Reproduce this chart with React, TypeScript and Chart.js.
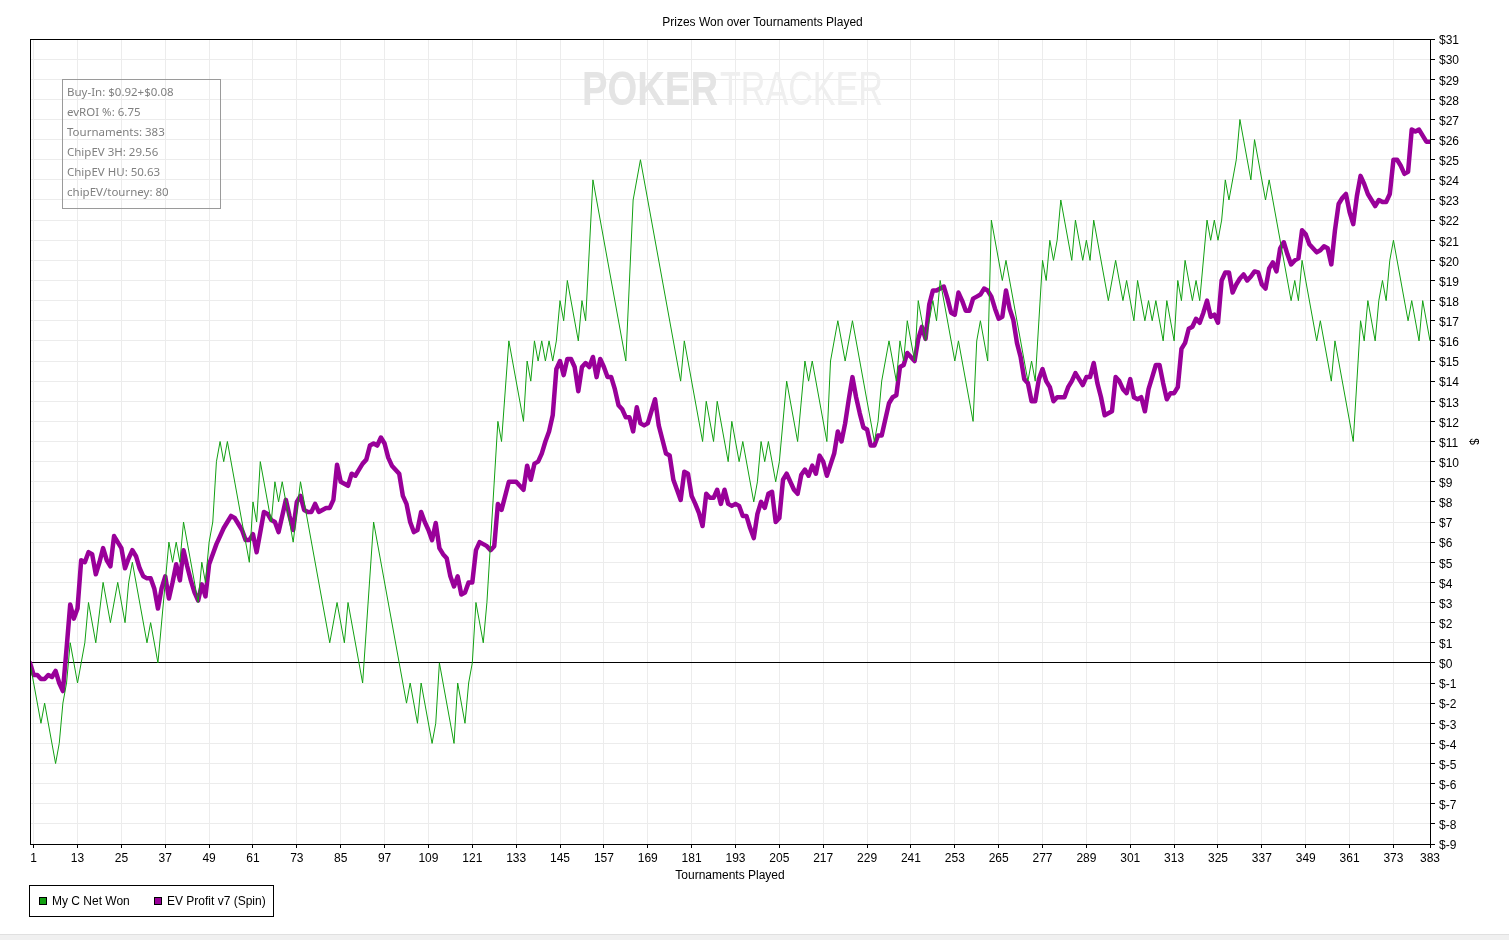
import React, { useEffect, useRef } from "react";
import { Chart, registerables } from "chart.js";

Chart.register(...registerables);

const TITLE = "Prizes Won over Tournaments Played";
const X_TITLE = "Tournaments Played";
const Y_TITLE = "$";
const SERIES_NAMES = ["My C Net Won", "EV Profit v7 (Spin)"];
const INFO_LINES = [
  "Buy-In: $0.92+$0.08",
  "evROI %: 6.75",
  "Tournaments: 383",
  "ChipEV 3H: 29.56",
  "ChipEV HU: 50.63",
  "chipEV/tourney: 80",
];

const X_TICKS = [1, 13, 25, 37, 49, 61, 73, 85, 97, 109, 121, 133, 145, 157, 169, 181, 193, 205, 217, 229, 241, 253, 265, 277, 289, 301, 313, 325, 337, 349, 361, 373, 383];
const X_MIN = 0;
const X_MAX = 383;
const Y_MIN = -9;
const Y_MAX = 31;

// [tournament, net won $] at each turning point of the line
const NET_WON: [number, number][] = [
  [0, 0], [3, -3], [4, -2], [7, -5], [8, -4], [9, -2], [10, -1], [11, 1], [13, -1], [15, 1], [16, 3], [18, 1],
  [20, 4], [22, 2], [24, 4], [26, 2], [27, 4], [28, 5], [32, 1], [33, 2], [35, 0], [38, 6], [39, 5], [40, 6],
  [41, 5], [42, 7], [46, 3], [47, 5], [48, 4], [49, 6], [50, 7], [51, 10], [52, 11], [53, 10], [54, 11], [60, 5],
  [61, 8], [62, 7], [63, 10], [66, 7], [67, 9], [68, 8], [69, 9], [72, 6], [74, 9], [82, 1], [84, 3], [86, 1],
  [87, 3], [91, -1], [94, 7], [103, -2], [104, -1], [106, -3], [107, -1], [110, -4], [111, -3], [112, 0],
  [116, -4], [117, -1], [119, -3], [120, -1], [121, 0], [122, 3], [124, 1], [125, 3], [128, 12], [129, 11],
  [131, 16], [135, 12], [136, 15], [137, 14], [138, 16], [139, 15], [140, 16], [141, 15], [142, 16], [143, 15],
  [144, 16], [145, 18], [146, 17], [147, 19], [150, 16], [151, 18], [152, 17], [154, 24], [163, 15], [165, 23],
  [167, 25], [178, 14], [179, 16], [184, 11], [185, 13], [187, 11], [188, 13], [191, 10], [192, 12], [194, 10],
  [195, 11], [198, 8], [199, 9], [200, 11], [201, 10], [202, 11], [204, 9], [205, 10], [207, 14], [210, 11],
  [212, 15], [213, 14], [214, 15], [218, 11], [219, 15], [221, 17], [223, 15], [225, 17], [231, 11], [232, 12],
  [233, 14], [235, 16], [237, 14], [238, 16], [239, 15], [240, 17], [242, 15], [243, 18], [244, 17], [245, 16],
  [247, 18], [248, 17], [249, 19], [253, 15], [254, 16], [258, 12], [259, 16], [260, 17], [262, 15], [263, 22],
  [266, 19], [267, 20], [273, 14], [274, 15], [275, 14], [277, 20], [278, 19], [279, 21], [280, 20], [281, 21],
  [282, 23], [285, 20], [286, 22], [288, 20], [289, 21], [290, 20], [291, 22], [295, 18], [297, 20], [299, 18],
  [300, 19], [302, 17], [303, 19], [305, 17], [306, 18], [307, 17], [308, 18], [310, 16], [311, 18], [313, 16],
  [314, 19], [315, 18], [316, 20], [318, 18], [319, 19], [320, 18], [322, 22], [323, 21], [324, 22], [325, 21],
  [326, 22], [327, 24], [328, 23], [330, 25], [331, 27], [334, 24], [335, 26], [338, 23], [339, 24], [345, 18],
  [346, 19], [347, 18], [348, 20], [352, 16], [353, 17], [356, 14], [357, 16], [362, 11], [364, 17], [365, 16],
  [366, 18], [368, 16], [369, 18], [370, 19], [371, 18], [372, 20], [373, 21], [377, 17], [378, 18], [380, 16],
  [381, 18], [383, 16],
];

// [tournament, EV profit $]
const EV_PROFIT: [number, number][] = [
  [0, 0], [1, -0.6], [2, -0.6], [3, -0.8], [4, -0.8], [5, -0.6], [6, -0.7], [7, -0.4], [8, -1.0], [9, -1.4],
  [10, 0.7], [11, 2.9], [12, 2.2], [13, 2.7], [14, 5.1], [15, 5.0], [16, 5.5], [17, 5.4], [18, 4.4], [19, 5.0],
  [20, 5.7], [21, 5.1], [22, 4.8], [23, 6.3], [24, 6.0], [25, 5.7], [26, 4.7], [27, 5.2], [28, 5.6], [29, 5.3],
  [30, 4.7], [31, 4.3], [32, 4.2], [33, 4.2], [34, 3.7], [35, 2.7], [36, 3.7], [37, 4.3], [38, 3.2], [39, 4.0],
  [40, 4.9], [41, 4.1], [42, 5.6], [43, 4.8], [44, 4.1], [45, 3.5], [46, 3.1], [47, 3.9], [48, 3.3], [49, 4.9],
  [50, 5.4], [51, 5.9], [52, 6.3], [53, 6.7], [54, 7.0], [55, 7.3], [56, 7.2], [57, 6.9], [58, 6.6], [59, 6.1],
  [60, 6.1], [61, 6.4], [62, 5.5], [63, 6.5], [64, 7.5], [65, 7.4], [66, 7.1], [67, 7.0], [68, 6.5], [69, 7.3],
  [70, 8.1], [71, 7.3], [72, 6.6], [73, 8.0], [74, 8.3], [75, 7.6], [76, 7.5], [77, 7.5], [78, 7.9], [79, 7.5],
  [80, 7.6], [81, 7.7], [82, 7.7], [83, 8.1], [84, 9.85], [85, 9.0], [86, 8.9], [87, 8.8], [88, 9.4], [89, 9.3],
  [90, 9.6], [91, 9.9], [92, 10.1], [93, 10.8], [94, 10.9], [95, 10.8], [96, 11.2], [97, 10.9], [98, 10.2], [99, 9.8],
  [100, 9.6], [101, 9.4], [102, 8.3], [103, 7.9], [104, 7.0], [105, 6.5], [106, 6.6], [107, 7.5], [108, 7.0], [109, 6.6],
  [110, 6.1], [111, 6.95], [112, 5.7], [113, 5.4], [114, 5.2], [115, 4.3], [116, 3.8], [117, 4.3], [118, 3.4], [119, 3.5],
  [120, 4.0], [121, 4.0], [122, 5.6], [123, 6.0], [124, 5.9], [125, 5.8], [126, 5.6], [127, 5.8], [128, 7.9], [129, 7.6],
  [130, 8.3], [131, 9.0], [132, 9.0], [133, 9.0], [134, 8.8], [135, 8.6], [136, 9.8], [137, 9.1], [138, 9.9], [139, 10.0],
  [140, 10.4], [141, 11.0], [142, 11.5], [143, 12.3], [144, 14.6], [145, 15.0], [146, 14.3], [147, 15.1], [148, 15.1], [149, 14.7],
  [150, 13.5], [151, 14.7], [152, 14.9], [153, 14.7], [154, 15.2], [155, 14.2], [156, 15.1], [157, 14.7], [158, 14.2], [159, 14.2],
  [160, 13.6], [161, 12.8], [162, 12.6], [163, 12.2], [164, 12.2], [165, 11.5], [166, 12.7], [167, 11.9], [168, 11.8], [169, 11.9],
  [170, 12.5], [171, 13.1], [172, 11.8], [173, 11.1], [174, 10.4], [175, 10.3], [176, 9.1], [177, 8.6], [178, 8.1], [179, 9.5],
  [180, 9.4], [181, 8.3], [182, 7.9], [183, 7.45], [184, 6.8], [185, 8.4], [186, 8.2], [187, 8.2], [188, 8.6], [189, 7.9],
  [190, 8.6], [191, 7.9], [192, 7.8], [193, 7.9], [194, 7.8], [195, 7.3], [196, 7.3], [197, 6.7], [198, 6.2], [199, 7.4],
  [200, 8.0], [201, 7.7], [202, 8.4], [203, 8.5], [204, 7.0], [205, 7.2], [206, 9.1], [207, 9.4], [208, 9.0], [209, 8.6],
  [210, 8.4], [211, 9.35], [212, 9.6], [213, 9.3], [214, 9.8], [215, 9.4], [216, 10.3], [217, 10.0], [218, 9.3], [219, 9.85],
  [220, 10.4], [221, 11.5], [222, 11.0], [223, 11.9], [224, 13.1], [225, 14.2], [226, 13.2], [227, 12.4], [228, 11.7], [229, 11.6],
  [230, 10.8], [231, 10.8], [232, 11.3], [233, 11.3], [234, 12.1], [235, 12.9], [236, 13.2], [237, 13.3], [238, 14.7], [239, 14.8],
  [240, 15.4], [241, 15.2], [242, 15.0], [243, 16.1], [244, 16.7], [245, 16.1], [246, 17.8], [247, 18.5], [248, 18.5], [249, 18.6],
  [250, 18.7], [251, 18.1], [252, 17.4], [253, 17.3], [254, 18.4], [255, 18.0], [256, 17.5], [257, 17.5], [258, 18.1], [259, 18.2],
  [260, 18.3], [261, 18.6], [262, 18.5], [263, 18.2], [264, 17.6], [265, 17.1], [266, 17.2], [267, 18.5], [268, 17.6], [269, 17.05],
  [270, 15.9], [271, 15.2], [272, 14.1], [273, 13.9], [274, 13.0], [275, 13.0], [276, 14.1], [277, 14.6], [278, 14.0], [279, 13.7],
  [280, 13.0], [281, 13.2], [282, 13.2], [283, 13.2], [284, 13.7], [285, 14.0], [286, 14.4], [287, 14.1], [288, 13.8], [289, 14.2],
  [290, 14.2], [291, 14.9], [292, 13.9], [293, 13.2], [294, 12.3], [295, 12.4], [296, 12.5], [297, 14.2], [298, 14.0], [299, 13.6],
  [300, 13.4], [301, 14.1], [302, 13.2], [303, 13.1], [304, 13.2], [305, 12.5], [306, 13.6], [307, 14.2], [308, 14.8], [309, 14.8],
  [310, 13.9], [311, 13.1], [312, 13.4], [313, 13.4], [314, 13.7], [315, 15.6], [316, 15.9], [317, 16.6], [318, 16.7], [319, 17.1],
  [320, 16.9], [321, 17.4], [322, 18.0], [323, 17.2], [324, 17.3], [325, 16.9], [326, 19.0], [327, 19.4], [328, 19.4], [329, 18.4],
  [330, 18.8], [331, 19.1], [332, 19.3], [333, 19.0], [334, 19.2], [335, 19.45], [336, 19.4], [337, 18.8], [338, 18.6], [339, 19.6],
  [340, 19.9], [341, 19.45], [342, 20.6], [343, 20.9], [344, 20.3], [345, 19.8], [346, 20.0], [347, 20.1], [348, 21.5], [349, 21.3],
  [350, 20.8], [351, 20.6], [352, 20.4], [353, 20.5], [354, 20.7], [355, 20.6], [356, 19.8], [357, 21.5], [358, 22.8], [359, 23.1],
  [360, 23.3], [361, 22.4], [362, 21.8], [363, 23.2], [364, 24.2], [365, 23.8], [366, 23.3], [367, 23.0], [368, 22.7], [369, 23.0],
  [370, 22.9], [371, 22.9], [372, 23.3], [373, 25.0], [374, 25.0], [375, 24.7], [376, 24.3], [377, 24.4], [378, 26.5], [379, 26.4],
  [380, 26.5], [381, 26.2], [382, 25.9], [383, 25.9],
];

const GREEN = "#12a012";
const PURPLE = "#990099";
const GRID = "#ececec";
const FONT = "'Liberation Sans', Arial, Helvetica, sans-serif";
const INFO_FONT = "'Noto Sans', 'Open Sans', sans-serif";

const W = 1509;
const H = 934;

const decorPlugin = {
  id: "decor",
  beforeDatasetsDraw(chart: any) {
    const { ctx, chartArea } = chart;
    ctx.save();
    // watermark
    ctx.textBaseline = "alphabetic";
    ctx.textAlign = "left";
    const wmY = chartArea.top + 66;
    const drawFit = (text: string, font: string, color: string, x: number, width: number) => {
      ctx.font = font;
      const m = ctx.measureText(text).width;
      ctx.save();
      ctx.translate(x, wmY);
      ctx.scale(width / m, 1);
      ctx.fillStyle = color;
      ctx.fillText(text, 0, 0);
      ctx.restore();
    };
    drawFit("POKER", `bold 48px ${FONT}`, "#e4e4e4", chartArea.left + 552, 136);
    drawFit("TRACKER", `48px ${FONT}`, "#efefef", chartArea.left + 690, 163);

    // info box
    const bx = chartArea.left + 32;
    const by = chartArea.top + 40;
    ctx.strokeStyle = "#9a9a9a";
    ctx.lineWidth = 1;
    ctx.strokeRect(bx + 0.5, by + 0.5, 158, 129);
    ctx.fillStyle = "#808080";
    ctx.font = `11.5px ${INFO_FONT}`;
    ctx.textBaseline = "middle";
    INFO_LINES.forEach((line, i) => {
      ctx.fillText(line, bx + 5, by + 13.5 + i * 20);
    });
    ctx.restore();
  },
  afterDraw(chart: any) {
    const { ctx, chartArea } = chart;
    ctx.save();
    ctx.strokeStyle = "#000";
    ctx.lineWidth = 1;
    ctx.strokeRect(
      Math.round(chartArea.left) + 0.5,
      Math.round(chartArea.top) + 0.5,
      Math.round(chartArea.right - chartArea.left),
      Math.round(chartArea.bottom - chartArea.top)
    );
    // title
    ctx.fillStyle = "#000";
    ctx.font = `12px ${FONT}`;
    ctx.textAlign = "center";
    ctx.textBaseline = "middle";
    ctx.fillText(TITLE, (chartArea.left + chartArea.right + 65) / 2, 23);

    // legend
    const lx = 29;
    const ly = 885;
    ctx.strokeRect(lx + 0.5, ly + 0.5, 244, 31);
    const items = [
      { name: SERIES_NAMES[0], color: GREEN, x: lx + 10 },
      { name: SERIES_NAMES[1], color: PURPLE, x: lx + 125 },
    ];
    ctx.textAlign = "left";
    items.forEach((it) => {
      ctx.fillStyle = it.color;
      ctx.fillRect(it.x, ly + 12, 8, 8);
      ctx.strokeStyle = "#000";
      ctx.strokeRect(it.x + 0.5, ly + 12.5, 7, 7);
      ctx.fillStyle = "#000";
      ctx.fillText(it.name, it.x + 13, ly + 17);
    });
    ctx.restore();
  },
};

export default function App() {
  const ref = useRef<HTMLCanvasElement | null>(null);

  useEffect(() => {
    if (!ref.current) return;
    const chart = new Chart(ref.current, {
      type: "line",
      data: {
        datasets: [
          {
            label: SERIES_NAMES[0],
            data: NET_WON.map(([x, y]) => ({ x, y })),
            borderColor: GREEN,
            backgroundColor: GREEN,
            borderWidth: 1,
            pointRadius: 0,
            tension: 0,
            order: 0,
          },
          {
            label: SERIES_NAMES[1],
            data: EV_PROFIT.map(([x, y]) => ({ x, y })),
            borderColor: PURPLE,
            backgroundColor: PURPLE,
            borderWidth: 4.5,
            borderJoinStyle: "round",
            borderCapStyle: "round",
            pointRadius: 0,
            tension: 0,
            order: 1,
          },
        ],
      },
      options: {
        responsive: false,
        animation: false,
        events: [],
        layout: { padding: { left: 30, top: 39, right: 0, bottom: 0 } },
        plugins: {
          legend: { display: false },
          title: { display: false },
          tooltip: { enabled: false },
        },
        scales: {
          x: {
            type: "linear",
            position: "bottom",
            min: X_MIN,
            max: X_MAX,
            afterBuildTicks: (scale: any) => {
              scale.ticks = X_TICKS.map((value) => ({ value }));
            },
            afterFit: (scale: any) => {
              scale.height = H - 844;
            },
            ticks: {
              autoSkip: false,
              maxRotation: 0,
              minRotation: 0,
              padding: 3,
              color: "#000",
              font: { family: FONT, size: 12 },
              callback: (v: any) => String(v),
            },
            grid: {
              color: GRID,
              tickColor: "#000",
              tickLength: 4,
              lineWidth: 1,
            },
            border: { display: true, color: "#000" },
            title: {
              display: true,
              text: X_TITLE,
              color: "#000",
              font: { family: FONT, size: 12 },
              padding: { top: 0, bottom: 51 },
            },
          },
          y: {
            type: "linear",
            position: "right",
            min: Y_MIN,
            max: Y_MAX,
            afterFit: (scale: any) => {
              scale.width = W - 1430;
            },
            ticks: {
              stepSize: 1,
              autoSkip: false,
              padding: 4,
              labelOffset: 2,
              color: "#000",
              font: { family: FONT, size: 12 },
              callback: (v: any) => "$" + v,
            },
            grid: {
              color: (c: any) => (c.tick && c.tick.value === 0 ? "#000" : GRID),
              tickColor: "#000",
              tickLength: 5,
              lineWidth: 1,
            },
            border: { display: true, color: "#000" },
            title: {
              display: true,
              text: Y_TITLE,
              color: "#000",
              font: { family: FONT, size: 12 },
              padding: { top: 28, bottom: 0 },
            },
          },
        },
      },
      plugins: [decorPlugin],
    } as any);
    return () => chart.destroy();
  }, []);

  return (
    <div style={{ position: "absolute", left: 0, top: 0, width: W, height: 940, background: "#fff", overflow: "hidden" }}>
      <canvas ref={ref} width={W} height={H} style={{ display: "block", width: W, height: H }} />
      <div style={{ position: "absolute", left: 0, top: H, width: W, height: 940 - H, background: "#f0f0f0", borderTop: "1px solid #e0e0e0", boxSizing: "border-box" }} />
    </div>
  );
}
